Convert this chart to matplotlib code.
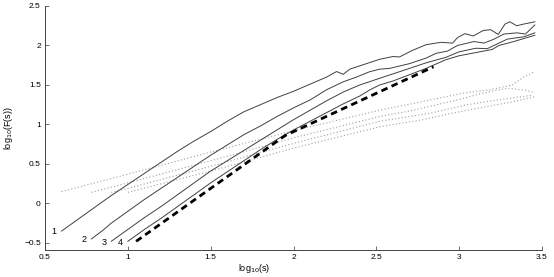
import matplotlib
matplotlib.use("Agg")
import matplotlib.pyplot as plt

plt.rcParams['font.family'] = ['Liberation Sans', 'DejaVu Sans']

# Solid DFA curves (log10 s, log10 F(s))
x1 = [0.60, 0.70, 0.80, 0.90, 1.00, 1.10, 1.20, 1.30, 1.40, 1.50, 1.60, 1.70, 1.80, 1.90,
      2.00, 2.10, 2.20, 2.26, 2.30, 2.34, 2.44, 2.52, 2.60, 2.64, 2.72, 2.80, 2.89, 2.96,
      2.99, 3.035, 3.085, 3.145, 3.19, 3.236, 3.276, 3.306, 3.347, 3.387, 3.457]
y1 = [-0.35, -0.20, -0.05, 0.10, 0.24, 0.38, 0.52, 0.66, 0.79, 0.91, 1.04, 1.16, 1.25, 1.34,
      1.42, 1.51, 1.60, 1.67, 1.635, 1.70, 1.77, 1.825, 1.86, 1.855, 1.94, 2.01, 2.04, 2.03,
      2.10, 2.15, 2.12, 2.19, 2.20, 2.14, 2.27, 2.30, 2.25, 2.27, 2.30]

x2 = [0.78, 0.85, 0.90, 1.00, 1.10, 1.20, 1.30, 1.40, 1.50, 1.60, 1.70, 1.80, 1.90, 2.00,
      2.10, 2.20, 2.30, 2.38, 2.46, 2.52, 2.58, 2.70, 2.80, 2.86, 2.93, 2.99, 3.09, 3.15,
      3.21, 3.27, 3.35, 3.40, 3.457]
y2 = [-0.45, -0.34, -0.25, -0.10, 0.05, 0.19, 0.33, 0.47, 0.61, 0.74, 0.87, 0.98, 1.10, 1.21,
      1.31, 1.44, 1.54, 1.60, 1.668, 1.70, 1.71, 1.77, 1.84, 1.90, 1.93, 2.00, 2.05, 2.03,
      2.08, 2.145, 2.16, 2.145, 2.26]

x3 = [0.90, 1.00, 1.10, 1.20, 1.30, 1.40, 1.50, 1.60, 1.70, 1.80, 1.90, 2.00, 2.10, 2.20,
      2.30, 2.40, 2.46, 2.52, 2.60, 2.70, 2.80, 2.92, 3.00, 3.10, 3.17, 3.24, 3.29, 3.39, 3.457]
y3 = [-0.48, -0.33, -0.18, -0.04, 0.11, 0.26, 0.41, 0.54, 0.67, 0.80, 0.93, 1.06, 1.18, 1.30,
      1.41, 1.50, 1.542, 1.585, 1.64, 1.71, 1.78, 1.85, 1.92, 1.965, 1.96, 2.03, 2.08, 2.11, 2.16]

x4 = [1.00, 1.10, 1.20, 1.30, 1.40, 1.50, 1.60, 1.70, 1.80, 1.90, 2.00, 2.10, 2.20, 2.30,
      2.40, 2.46, 2.52, 2.60, 2.70, 2.80, 2.92, 3.00, 3.10, 3.20, 3.24, 3.33, 3.457]
y4 = [-0.48, -0.33, -0.19, -0.04, 0.11, 0.26, 0.40, 0.54, 0.68, 0.81, 0.93, 1.04, 1.15, 1.26,
      1.36, 1.437, 1.50, 1.55, 1.63, 1.71, 1.82, 1.87, 1.91, 1.95, 2.00, 2.05, 2.13]

# Dashed reference line
xd = [1.05, 1.95, 2.845]
yd = [-0.48, 0.86, 1.73]

# Dotted curves
xd1 = [0.60, 1.00, 1.50, 2.00, 2.52, 2.78, 3.03, 3.19, 3.32, 3.39, 3.457]
yd1 = [0.15, 0.37, 0.65, 0.92, 1.18, 1.29, 1.40, 1.44, 1.50, 1.60, 1.67]
xd2 = [0.78, 1.00, 1.50, 2.00, 2.52, 2.70, 2.99, 3.13, 3.29, 3.41, 3.457]
yd2 = [0.14, 0.26, 0.54, 0.83, 1.10, 1.17, 1.31, 1.39, 1.46, 1.43, 1.40]
xd3 = [0.90, 1.00, 1.50, 2.00, 2.52, 2.82, 3.05, 3.23, 3.44]
yd3 = [0.14, 0.19, 0.47, 0.76, 1.04, 1.14, 1.25, 1.31, 1.37]
xd4 = [1.00, 1.50, 2.00, 2.52, 2.78, 2.95, 3.15, 3.33, 3.457]
yd4 = [0.14, 0.41, 0.70, 0.97, 1.06, 1.14, 1.22, 1.29, 1.35]

curve_labels = ["1", "2", "3", "4"]
xticks = [0.5, 1, 1.5, 2, 2.5, 3, 3.5]
yticks = [-0.5, 0, 0.5, 1, 1.5, 2, 2.5]

fig = plt.figure(figsize=(5.54, 2.77), dpi=100)
ax = fig.add_axes([45/554, 27/277, 497/554, 244/277])

for xs, ys in [(xd1, yd1), (xd2, yd2), (xd3, yd3), (xd4, yd4)]:
    ax.plot(xs, ys, color='#a0a0a0', lw=0.8, linestyle=(0, (1, 2)))

solid = [(x1, y1), (x2, y2), (x3, y3), (x4, y4)]
for (xs, ys), lab in zip(solid, curve_labels):
    ax.plot(xs, ys, color='#404040', lw=0.7)
    ax.text(xs[0] - 0.03, ys[0] - 0.01, lab, fontsize=6.5, ha='right', va='center')

ax.plot(xd, yd, color='black', lw=2.0, dashes=(2.4, 1.6))

ax.set_xlim(0.5, 3.5)
ax.set_ylim(-0.59, 2.5)
ax.set_xticks(xticks)
ax.set_xticklabels(["0.5", "1", "1.5", "2", "2.5", "3", "3.5"])
ax.set_yticks(yticks)
ax.set_yticklabels(["\u22120.5", "0", "0.5", "1", "1.5", "2", "2.5"])
ax.tick_params(direction='in', length=3, width=0.6, labelsize=6, pad=3, color='#555555')
for s in ['top', 'right']:
    ax.spines[s].set_visible(False)
for s in ['left', 'bottom']:
    ax.spines[s].set_linewidth(0.7)
    ax.spines[s].set_color('#444444')

ax.set_xlabel("log$_{10}$(s)", fontsize=6.5)
ax.xaxis.set_label_coords(0.42, -0.05)
ax.set_ylabel("log$_{10}$(F(s))", fontsize=6.5)
ax.yaxis.set_label_coords(-0.06, 0.5)

fig.savefig("out.png", dpi=100)
